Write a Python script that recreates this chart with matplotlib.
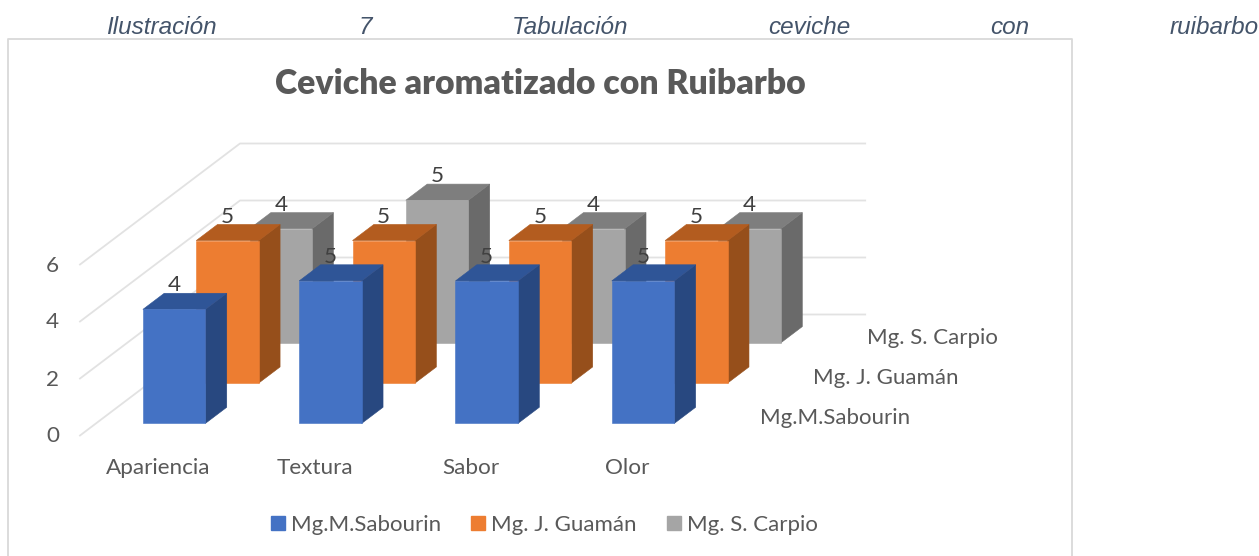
import matplotlib
matplotlib.use('Agg')
import matplotlib.pyplot as plt
from matplotlib.patches import Patch, Polygon

# datos
categories = ['Apariencia', 'Textura', 'Sabor', 'Olor']
series_names = ['Mg.M.Sabourin', 'Mg. J. Guamán', 'Mg. S. Carpio']
sabourin = [4, 5, 5, 5]
guaman = [5, 5, 5, 5]
carpio = [4, 5, 4, 4]
y_ticks = [0, 2, 4, 6]
caption_words = ['Ilustración', '7', 'Tabulación', 'ceviche', 'con', 'ruibarbo']

series_values = [sabourin, guaman, carpio]

# colores: frente, techo, lado
front_colors = ['#4472C4', '#ED7D31', '#A5A5A5']
top_colors = ['#2F5597', '#B35C1F', '#7E7E7E']
side_colors = ['#284880', '#964F1B', '#6A6A6A']
text_color = '#595959'
grid_color = '#E2E2E2'

# proyeccion oblicua de la caja 3D (en pixeles de la figura)
X0, Y0 = 80, 435.5
CAT_W = 156.3
UNIT_H = 28.5
DEPTH_X, DEPTH_Y = 160, 121
BAR_W = 0.4
BAR_D = 0.4


def project(cat, depth, value):
    return X0 + cat * CAT_W + depth * DEPTH_X, Y0 - value * UNIT_H - depth * DEPTH_Y


fig = plt.figure(figsize=(12.59, 5.56), dpi=100)
ax = fig.add_axes([0, 0, 1, 1])
ax.set_xlim(0, 1259)
ax.set_ylim(556, 0)
ax.axis('off')
plt.rcParams['font.family'] = ['Lato', 'DejaVu Sans']

# marco del grafico
ax.plot([8, 8, 1072, 1072], [556, 39, 39, 556], color='#D9D9D9', lw=1.3, zorder=1)

# leyenda de ilustracion, con las palabras justificadas
caption_x = [106, 358, 512, 768, 990, 1170]
for word, wx in zip(caption_words, caption_x):
    ax.text(wx, 33.5, word, family='Liberation Sans', style='italic', fontsize=17.5,
            color='#44546A', ha='left', va='baseline')

ax.text(540, 84, 'Ceviche aromatizado con Ruibarbo', fontsize=24.3, fontweight='heavy',
        color=text_color, ha='center', va='center')

# lineas de la cuadricula
n_cats = len(categories)
for v in y_ticks:
    p0 = project(0, 0, v)
    p1 = project(0, 1, v)
    p2 = project(n_cats, 1, v)
    ax.plot([p0[0], p1[0], p2[0]], [p0[1], p1[1], p2[1]], color=grid_color, lw=1.3, zorder=2)
    ax.text(p0[0] - 21, p0[1] + 1, str(v), fontsize=16.2, color=text_color, ha='right', va='center')

# barras, de atras hacia adelante
n_series = len(series_names)
z = 3
for s in range(n_series - 1, -1, -1):
    d0 = (s + (1 - BAR_D) / 2) / n_series
    d1 = d0 + BAR_D / n_series
    for c, val in enumerate(series_values[s]):
        c0 = c + (1 - BAR_W) / 2
        c1 = c0 + BAR_W
        front = [project(c0, d0, 0), project(c1, d0, 0), project(c1, d0, val), project(c0, d0, val)]
        top = [project(c0, d0, val), project(c1, d0, val), project(c1, d1, val), project(c0, d1, val)]
        side = [project(c1, d0, 0), project(c1, d1, 0), project(c1, d1, val), project(c1, d0, val)]
        ax.add_patch(Polygon(side, closed=True, fc=side_colors[s], ec=side_colors[s], lw=0.4, zorder=z))
        ax.add_patch(Polygon(top, closed=True, fc=top_colors[s], ec=top_colors[s], lw=0.4, zorder=z))
        ax.add_patch(Polygon(front, closed=True, fc=front_colors[s], ec=front_colors[s], lw=0.4, zorder=z))
        z += 1
        lx, ly = project(c + 0.5, d0, val)
        ax.text(lx, ly - 24, str(val), fontsize=16.2, color='#404040', ha='center', va='center', zorder=50)

# etiquetas de categorias y de series
for c, name in enumerate(categories):
    lx, ly = project(c + 0.5, 0, 0)
    ax.text(lx, ly + 32, name, fontsize=16.2, color=text_color, ha='center', va='center')
for s, name in enumerate(series_names):
    lx, ly = project(n_cats, (s + 0.5) / n_series, 0)
    ax.text(lx + 28, ly + 3, name, fontsize=16, color=text_color, ha='left', va='center')

handles = [Patch(color=col, label=name) for col, name in zip(front_colors, series_names)]
ax.legend(handles=handles, ncol=3, loc='center', bbox_to_anchor=(544.5, 525),
          bbox_transform=ax.transData, frameon=False, fontsize=16, labelcolor=text_color,
          handlelength=0.62, handleheight=0.62, handletextpad=0.28, columnspacing=1.35)

plt.savefig('out.png', dpi=100)
